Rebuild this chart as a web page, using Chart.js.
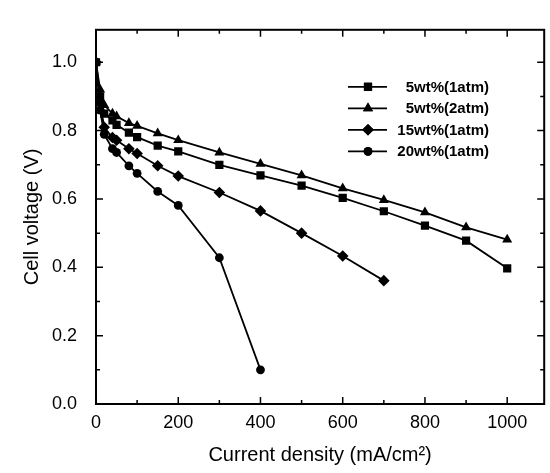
<!DOCTYPE html>
<html>
<head>
<meta charset="utf-8">
<script src="https://cdn.jsdelivr.net/npm/chart.js@4.4.1/dist/chart.umd.min.js"></script>
<style>
  body { margin: 0; background: #fff; }
</style>
</head>
<body>
<canvas id="polChart" width="550" height="473"></canvas>
<script>
// current density (mA/cm2) shared by all runs
const currentDensity = [0, 10, 20, 40, 50, 80, 100, 150, 200, 300, 400, 500, 600, 700, 800, 900, 1000];

// cell voltage (V)
const v5wt1atm  = [1.0, 0.90, 0.85, 0.83, 0.817, 0.794, 0.781, 0.756, 0.739, 0.700, 0.669, 0.639, 0.603, 0.564, 0.522, 0.478, 0.397];
const v5wt2atm  = [1.0, 0.92, 0.875, 0.85, 0.842, 0.822, 0.814, 0.792, 0.772, 0.736, 0.703, 0.669, 0.631, 0.597, 0.561, 0.517, 0.481];
const v15wt1atm = [1.0, 0.88, 0.81, 0.78, 0.772, 0.747, 0.733, 0.697, 0.667, 0.619, 0.565, 0.500, 0.433, 0.361];
const v20wt1atm = [1.0, 0.86, 0.789, 0.747, 0.736, 0.697, 0.675, 0.622, 0.581, 0.428, 0.10];

const seriesLabels = ['5wt%(1atm)', '5wt%(2atm)', '15wt%(1atm)', '20wt%(1atm)'];

const xMajor = [0, 200, 400, 600, 800, 1000];
const xMinor = [100, 300, 500, 700, 900];
const yMajor = [0, 0.2, 0.4, 0.6, 0.8, 1.0];
const yMinor = [0.1, 0.3, 0.5, 0.7, 0.9];

const FONT = '"Liberation Sans", Arial, sans-serif';

function pts(ys) {
  return ys.map((y, i) => ({ x: currentDensity[i], y: y }));
}

function makeSet(label, ys, style, r) {
  return {
    label: label,
    data: pts(ys),
    borderColor: '#000',
    backgroundColor: '#000',
    borderWidth: 1.8,
    pointStyle: style,
    pointRadius: r,
    pointBorderWidth: 0,
    tension: 0
  };
}

// frame, inward ticks and the legend box
const framePlugin = {
  id: 'frame',
  afterDraw(chart) {
    const ctx = chart.ctx;
    const a = chart.chartArea;
    const xs = chart.scales.x, ys = chart.scales.y;
    ctx.save();
    ctx.strokeStyle = '#000';
    ctx.lineWidth = 2;
    ctx.strokeRect(a.left, a.top, a.right - a.left, a.bottom - a.top);
    ctx.lineWidth = 1.5;
    ctx.beginPath();
    xMajor.concat(xMinor).forEach(v => {
      const len = xMajor.includes(v) ? 7 : 4;
      const px = xs.getPixelForValue(v);
      ctx.moveTo(px, a.bottom); ctx.lineTo(px, a.bottom - len);
      ctx.moveTo(px, a.top); ctx.lineTo(px, a.top + len);
    });
    yMajor.concat(yMinor).forEach(v => {
      const len = yMajor.includes(v) ? 7 : 4;
      const py = ys.getPixelForValue(v);
      ctx.moveTo(a.left, py); ctx.lineTo(a.left + len, py);
      ctx.moveTo(a.right, py); ctx.lineTo(a.right - len, py);
    });
    ctx.stroke();

    // legend
    const lx0 = a.left + 252, lx1 = a.left + 291, mx = a.left + 272, tx = a.left + 393;
    ctx.font = 'bold 15px ' + FONT;
    ctx.textAlign = 'right';
    ctx.textBaseline = 'middle';
    chart.data.datasets.forEach((ds, i) => {
      const y = a.top + 57 + i * 21.5;
      ctx.lineWidth = 1.8;
      ctx.beginPath();
      ctx.moveTo(lx0, y); ctx.lineTo(lx1, y);
      ctx.stroke();
      Chart.helpers.drawPoint(ctx, { pointStyle: ds.pointStyle, radius: ds.pointRadius, rotation: 0, borderWidth: 0 }, mx, y);
      ctx.fillStyle = '#000';
      ctx.fill();
      ctx.fillText(ds.label, tx, y + 1);
    });
    ctx.restore();
  }
};

const ctx = document.getElementById('polChart').getContext('2d');
new Chart(ctx, {
  type: 'line',
  data: {
    datasets: [
      makeSet(seriesLabels[0], v5wt1atm, 'rect', 5.8),
      makeSet(seriesLabels[1], v5wt2atm, 'triangle', 5.8),
      makeSet(seriesLabels[2], v15wt1atm, 'rectRot', 5.8),
      makeSet(seriesLabels[3], v20wt1atm, 'circle', 4.4)
    ]
  },
  options: {
    responsive: false,
    animation: false,
    layout: { padding: { left: 0, right: 2, top: 10, bottom: 0 } },
    plugins: { legend: { display: false }, tooltip: { enabled: false } },
    scales: {
      x: {
        type: 'linear',
        min: 0,
        max: 1090,
        grid: { display: false, drawTicks: false },
        border: { display: false },
        afterBuildTicks: s => { s.ticks = xMajor.map(v => ({ value: v })); },
        afterFit: s => { s.height = 69; },
        ticks: { color: '#000', padding: 8, maxRotation: 0, font: { family: FONT, size: 18 }, callback: v => String(v) },
        title: {
          display: true,
          text: 'Current density (mA/cm²)',
          color: '#000',
          font: { family: FONT, size: 20 },
          padding: { top: 0, bottom: 6 }
        }
      },
      y: {
        min: 0,
        max: 1.095,
        grid: { display: false, drawTicks: false },
        border: { display: false },
        afterBuildTicks: s => { s.ticks = yMajor.map(v => ({ value: v })); },
        afterFit: s => { s.width = 96; },
        ticks: { color: '#000', padding: 19, font: { family: FONT, size: 18 }, callback: v => v.toFixed(1) },
        title: {
          display: true,
          text: 'Cell voltage (V)',
          color: '#000',
          font: { family: FONT, size: 20 },
          padding: { top: 20, bottom: 0 }
        }
      }
    }
  },
  plugins: [framePlugin]
});
</script>
</body>
</html>
